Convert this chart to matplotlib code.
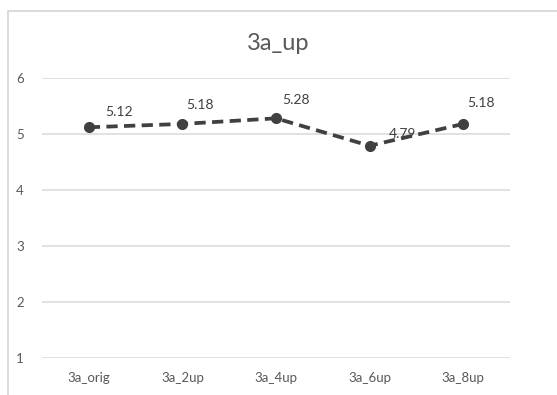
import matplotlib
matplotlib.use("Agg")
import matplotlib.pyplot as plt
from matplotlib.patches import Rectangle

categories = ["3a_orig", "3a_2up", "3a_4up", "3a_6up", "3a_8up"]
values = [5.12, 5.18, 5.28, 4.79, 5.18]
y_ticks = [1, 2, 3, 4, 5, 6]
title = "3a_up"

# data-label placement (pixels right / up of each marker)
label_offsets = [(30, 15), (18, 19), (20, 18), (33, 12), (18, 21)]

plt.rcParams["font.family"] = ["Lato", "DejaVu Sans"]

fig = plt.figure(figsize=(5.57, 3.95), dpi=100)
fig.patch.set_facecolor("white")

# chart frame
fig.add_artist(Rectangle((8 / 557, -0.05), 1.0, (395 - 11) / 395 + 0.05,
                         transform=fig.transFigure, fill=False,
                         edgecolor="#d4d4d4", linewidth=1.2))

ax = fig.add_axes([42 / 557, (395 - 358) / 395, 468 / 557, 280 / 395])
x = list(range(len(categories)))
ax.plot(x, values, linestyle=(0, (3, 1.7)), color="#404040", linewidth=2.7,
        marker="o", markersize=7, markerfacecolor="#404040",
        markeredgecolor="#404040", zorder=3)

px = 72 / 100
for xi, v, (dx, dy) in zip(x, values, label_offsets):
    ax.annotate(f"{v:.2f}", (xi, v), xytext=(dx * px, dy * px),
                textcoords="offset points", ha="center", va="center",
                fontsize=10, color="#404040")

ax.set_xlim(-0.5, len(categories) - 0.5)
ax.set_ylim(min(y_ticks), max(y_ticks))
ax.set_yticks(y_ticks)
ax.set_xticks(x)
ax.set_xticklabels(categories)
ax.grid(axis="y", color="#d9d9d9", linewidth=1.1)
ax.set_axisbelow(True)
for s in ax.spines.values():
    s.set_visible(False)
ax.tick_params(length=0, labelsize=9.5, labelcolor="#595959")
ax.tick_params(axis="y", pad=13)
ax.tick_params(axis="x", pad=10)

fig.text(278 / 557, 1 - 43 / 395, title, ha="center", va="center",
         fontsize=17, color="#595959")

fig.savefig("out.png", dpi=100)
